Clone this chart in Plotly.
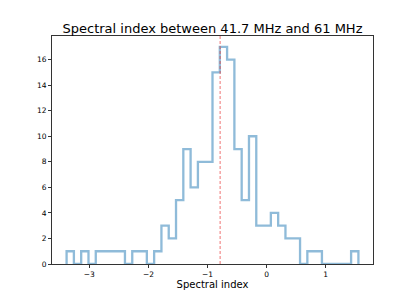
import plotly.graph_objects as go

# Histogram data (40 bins between bin_min and bin_max)
bin_min = -3.385
bin_max = 1.555
counts = [1, 0, 1, 0, 1, 1, 1, 1, 0, 1,
          1, 0, 1, 3, 2, 5, 9, 6, 8, 8,
          15, 17, 16, 9, 5, 10, 3, 3, 4, 3,
          2, 2, 0, 1, 1, 0, 0, 0, 0, 1]
median_value = -0.786
x_ticks = [-3, -2, -1, 0, 1]
y_ticks = [0, 2, 4, 6, 8, 10, 12, 14, 16]
title_text = "Spectral index between 41.7 MHz and 61 MHz"
xlabel = "Spectral index"

nb = len(counts)
width = (bin_max - bin_min) / nb
edges = [bin_min + i * width for i in range(nb + 1)]

# step outline like matplotlib histtype='step'
xs, ys = [edges[0]], [0]
for i, c in enumerate(counts):
    xs += [edges[i], edges[i + 1]]
    ys += [c, c]
xs.append(edges[-1])
ys.append(0)

span = bin_max - bin_min
xr = [bin_min - 0.05 * span, bin_max + 0.05 * span]
yr = [0, max(counts) * 1.05]

fig = go.Figure()
fig.add_trace(go.Scatter(x=xs, y=ys, mode="lines",
                         line=dict(color="rgba(31,119,180,0.5)", width=2.3),
                         hoverinfo="skip", showlegend=False))
fig.add_shape(type="line", xref="x", yref="paper", x0=median_value, x1=median_value,
              y0=0, y1=1, line=dict(color="rgba(230,40,40,0.65)", width=1, dash="3px,2px"))

font = "DejaVu Sans, Verdana, sans-serif"
fig.update_layout(
    width=415, height=302,
    margin=dict(l=52, r=42, t=36, b=38),
    paper_bgcolor="white", plot_bgcolor="white",
    font=dict(family=font, color="black", size=8),
    title=dict(text=title_text, x=0.5, xref="paper", xanchor="center",
               y=(302 - 28) / 302, yref="container", yanchor="middle",
               font=dict(size=13, family=font, color="black")),
    xaxis=dict(range=xr, tickmode="array", tickvals=x_ticks,
               showgrid=False, zeroline=False, showline=True, mirror=True,
               linecolor="#333", linewidth=0.8, ticks="outside", ticklen=3,
               tickwidth=0.8, tickcolor="#333", tickfont=dict(size=7.5),
               title=dict(text=xlabel, font=dict(size=10), standoff=3)),
    yaxis=dict(range=yr, tickmode="array", tickvals=y_ticks,
               showgrid=False, zeroline=False, showline=True, mirror=True,
               linecolor="#333", linewidth=0.8, ticks="outside", ticklen=3,
               tickwidth=0.8, tickcolor="#333", tickfont=dict(size=7.5)),
)
fig.write_html("out.html", config={"displayModeBar": False},
               post_script="document.body.style.margin='0';")
